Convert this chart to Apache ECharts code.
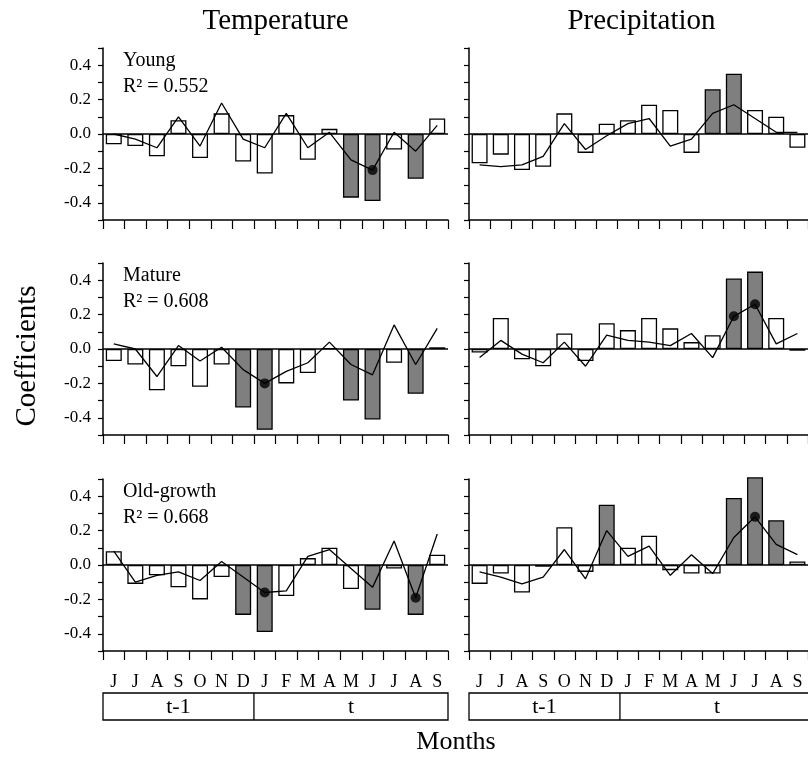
<!DOCTYPE html>
<html>
<head>
<meta charset="utf-8">
<script src="https://cdn.jsdelivr.net/npm/echarts@6/dist/echarts.min.js"></script>
<style>
  html, body { margin: 0; padding: 0; background: #fff; }
  #main { width: 808px; height: 762px; }
</style>
</head>
<body>
<div id="main"></div>
<script>
var months = ['J', 'J', 'A', 'S', 'O', 'N', 'D', 'J', 'F', 'M', 'A', 'M', 'J', 'J', 'A', 'S'];

// Temperature - Young
var tempYoungBar = [-0.06, -0.07, -0.13, 0.08, -0.14, 0.12, -0.16, -0.23, 0.11, -0.15, 0.03, -0.37, -0.39, -0.09, -0.26, 0.09];
var tempYoungLine = [0.00, -0.03, -0.08, 0.10, -0.07, 0.18, -0.03, -0.08, 0.12, -0.08, 0.01, -0.15, -0.21, 0.01, -0.10, 0.05];
var tempYoungGray = [11, 12, 14];
var tempYoungDots = [12];

// Precipitation - Young
var precYoungBar = [-0.17, -0.12, -0.21, -0.19, 0.12, -0.11, 0.06, 0.08, 0.17, 0.14, -0.11, 0.26, 0.35, 0.14, 0.10, -0.08];
var precYoungLine = [-0.18, -0.19, -0.18, -0.13, 0.06, -0.09, -0.01, 0.06, 0.09, -0.07, -0.03, 0.12, 0.17, 0.09, 0.01, 0.01];
var precYoungGray = [11, 12];
var precYoungDots = [];

// Temperature - Mature
var tempMatureBar = [-0.07, -0.09, -0.24, -0.10, -0.22, -0.09, -0.34, -0.47, -0.20, -0.14, 0.005, -0.30, -0.41, -0.08, -0.26, 0.01];
var tempMatureLine = [0.03, 0.00, -0.16, 0.02, -0.07, 0.01, -0.12, -0.20, -0.13, -0.08, 0.04, -0.09, -0.15, 0.14, -0.09, 0.12];
var tempMatureGray = [6, 7, 11, 12, 14];
var tempMatureDots = [7];

// Precipitation - Mature
var precMatureBar = [-0.02, 0.18, -0.06, -0.10, 0.09, -0.07, 0.15, 0.11, 0.18, 0.12, 0.04, 0.08, 0.41, 0.45, 0.18, -0.01];
var precMatureLine = [-0.05, 0.05, -0.03, -0.08, 0.04, -0.10, 0.08, 0.05, 0.04, 0.02, 0.09, -0.05, 0.19, 0.26, 0.03, 0.09];
var precMatureGray = [12, 13];
var precMatureDots = [12, 13];

// Temperature - Old-growth
var tempOldBar = [0.08, -0.11, -0.06, -0.13, -0.20, -0.07, -0.29, -0.39, -0.18, 0.04, 0.10, -0.14, -0.26, -0.02, -0.29, 0.06];
var tempOldLine = [0.08, -0.10, -0.06, -0.04, -0.09, 0.02, -0.07, -0.16, -0.15, 0.05, 0.09, -0.02, -0.13, 0.14, -0.19, 0.18];
var tempOldGray = [6, 7, 12, 14];
var tempOldDots = [7, 14];

// Precipitation - Old-growth
var precOldBar = [-0.11, -0.05, -0.16, -0.01, 0.22, -0.04, 0.35, 0.10, 0.17, -0.03, -0.05, -0.05, 0.39, 0.51, 0.26, 0.02];
var precOldLine = [-0.04, -0.07, -0.11, -0.07, 0.09, -0.08, 0.20, 0.05, 0.11, -0.06, 0.06, -0.05, 0.16, 0.28, 0.12, 0.06];
var precOldGray = [6, 12, 13, 14];
var precOldDots = [13];

var groupNames = ['Young', 'Mature', 'Old-growth'];
var r2Labels = ['R\u00b2 = 0.552', 'R\u00b2 = 0.608', 'R\u00b2 = 0.668'];
var columnTitles = ['Temperature', 'Precipitation'];

var panels = [
    { bar: tempYoungBar, line: tempYoungLine, gray: tempYoungGray, dots: tempYoungDots },
    { bar: precYoungBar, line: precYoungLine, gray: precYoungGray, dots: precYoungDots },
    { bar: tempMatureBar, line: tempMatureLine, gray: tempMatureGray, dots: tempMatureDots },
    { bar: precMatureBar, line: precMatureLine, gray: precMatureGray, dots: precMatureDots },
    { bar: tempOldBar, line: tempOldLine, gray: tempOldGray, dots: tempOldDots },
    { bar: precOldBar, line: precOldLine, gray: precOldGray, dots: precOldDots }
];

var FONT = "'Liberation Serif', 'Times New Roman', serif";
var gridLeft = [103, 469];
var gridTop = [48, 263, 479];
var gridW = 345;
var gridH = 172;
var colW = gridW / 16;

var grids = [], xAxes = [], yAxes = [], series = [], graphics = [];

for (var p = 0; p < panels.length; p++) {
    var row = Math.floor(p / 2), col = p % 2;
    var pd = panels[p];
    grids.push({ left: gridLeft[col], top: gridTop[row], width: gridW, height: gridH });

    xAxes.push({
        gridIndex: p,
        type: 'category',
        data: months,
        boundaryGap: true,
        position: 'bottom',
        axisLine: { onZero: false, lineStyle: { color: '#000', width: 1.5 } },
        axisTick: { show: true, interval: 0, length: 9, lineStyle: { color: '#000', width: 1.2 } },
        axisLabel: {
            show: row === 2, interval: 0, margin: 22,
            color: '#000', fontFamily: FONT, fontSize: 18
        },
        splitLine: { show: false }
    });

    yAxes.push({
        gridIndex: p,
        type: 'value',
        min: -0.5, max: 0.5, interval: 0.1,
        axisLine: { show: true, lineStyle: { color: '#000', width: 1.5 } },
        axisTick: { show: true, length: 5, lineStyle: { color: '#000', width: 1.2 } },
        axisLabel: {
            show: col === 0, margin: 12, color: '#000', fontFamily: FONT, fontSize: 17,
            formatter: function (v) {
                var r = Math.round(v * 10);
                if (Math.abs(r) < 5 && r % 2 === 0) return (r / 10).toFixed(1);
                return '';
            }
        },
        splitLine: { show: false }
    });

    var barData = pd.bar.map(function (v, i) {
        return {
            value: v,
            itemStyle: { color: pd.gray.indexOf(i) >= 0 ? '#7f7f7f' : '#fff' }
        };
    });
    series.push({
        type: 'bar',
        xAxisIndex: p, yAxisIndex: p,
        data: barData,
        barWidth: 16,
        clip: false,
        z: 2,
        itemStyle: { borderColor: '#000', borderWidth: 1.3 },
        markLine: {
            silent: true,
            symbol: ['none', 'none'],
            label: { show: false },
            lineStyle: { color: '#000', width: 1.5, type: 'solid' },
            data: [{ yAxis: 0 }]
        }
    });
    series.push({
        type: 'line',
        xAxisIndex: p, yAxisIndex: p,
        data: pd.line,
        symbol: 'none',
        z: 3,
        lineStyle: { color: '#000', width: 1.3 }
    });
    series.push({
        type: 'scatter',
        xAxisIndex: p, yAxisIndex: p,
        data: pd.line.map(function (v, i) { return pd.dots.indexOf(i) >= 0 ? v : '-'; }),
        symbol: 'circle',
        symbolSize: 10,
        z: 4,
        itemStyle: { color: '#000' }
    });

    // group label in left column
    if (col === 0) {
        graphics.push({
            type: 'text', left: gridLeft[0] + 20, top: gridTop[row] + 3,
            style: { text: groupNames[row], font: '20px ' + FONT, fill: '#000' }
        });
        graphics.push({
            type: 'text', left: gridLeft[0] + 20, top: gridTop[row] + 29,
            style: { text: r2Labels[row], font: '20px ' + FONT, fill: '#000' }
        });
    }
}

// column titles
for (var c = 0; c < 2; c++) {
    graphics.push({
        type: 'text', x: gridLeft[c] + gridW / 2, y: 21,
        style: { text: columnTitles[c], font: '29px ' + FONT, fill: '#000', align: 'center', verticalAlign: 'middle' }
    });
    // t-1 / t boxes
    var bx = gridLeft[c], by = 693, bh = 27;
    graphics.push({
        type: 'rect', shape: { x: bx, y: by, width: gridW, height: bh },
        style: { fill: 'none', stroke: '#000', lineWidth: 1.3 }
    });
    graphics.push({
        type: 'line', shape: { x1: bx + 7 * colW, y1: by, x2: bx + 7 * colW, y2: by + bh },
        style: { stroke: '#000', lineWidth: 1.3 }
    });
    graphics.push({
        type: 'text', x: bx + 3.5 * colW, y: by + bh / 2 + 1,
        style: { text: 't-1', font: '22px ' + FONT, fill: '#000', align: 'center', verticalAlign: 'middle' }
    });
    graphics.push({
        type: 'text', x: bx + 11.5 * colW, y: by + bh / 2 + 1,
        style: { text: 't', font: '22px ' + FONT, fill: '#000', align: 'center', verticalAlign: 'middle' }
    });
}

graphics.push({
    type: 'text', x: 27, y: 356, rotation: Math.PI / 2,
    style: { text: 'Coefficients', font: '29px ' + FONT, fill: '#000', align: 'center', verticalAlign: 'middle' }
});
graphics.push({
    type: 'text', x: 456, y: 742,
    style: { text: 'Months', font: '26px ' + FONT, fill: '#000', align: 'center', verticalAlign: 'middle' }
});

var myChart = echarts.init(document.getElementById('main'), null, { renderer: 'canvas' });
myChart.setOption({
    animation: false,
    backgroundColor: '#fff',
    grid: grids,
    xAxis: xAxes,
    yAxis: yAxes,
    series: series,
    graphic: graphics
});
</script>
</body>
</html>
